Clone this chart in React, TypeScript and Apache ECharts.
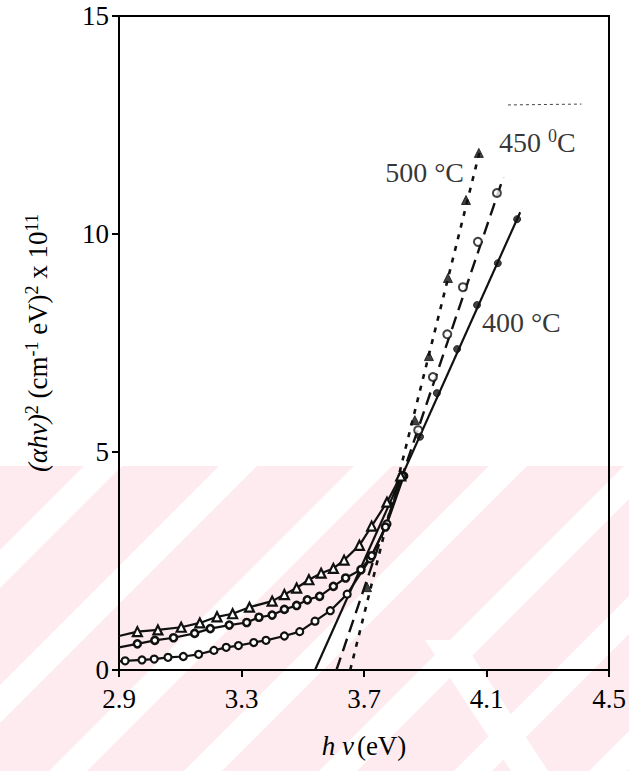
import React, { useEffect, useRef } from "react";
import * as echarts from "echarts";

const xTickValues = [2.9, 3.3, 3.7, 4.1, 4.5];
const yTickValues = [0, 5, 10, 15];

// 400 °C
const low400X = [2.9, 2.92, 2.975, 3.015, 3.06, 3.11, 3.16, 3.21, 3.25, 3.29, 3.34, 3.38, 3.44, 3.49, 3.54, 3.59, 3.645, 3.72, 3.775, 3.83];
const low400Y = [0.2, 0.21, 0.23, 0.25, 0.29, 0.31, 0.36, 0.45, 0.52, 0.56, 0.63, 0.68, 0.78, 0.88, 1.12, 1.36, 1.74, 2.55, 3.35, 4.45];
const high400X = [3.883, 3.938, 4.004, 4.069, 4.137, 4.2];
const high400Y = [5.35, 6.35, 7.36, 8.37, 9.33, 10.34];
const fit400X = [3.54, 4.21];
const fit400Y = [0, 10.5];

// 450 °C
const low450X = [2.9, 2.96, 3.017, 3.078, 3.147, 3.198, 3.26, 3.317, 3.357, 3.4, 3.44, 3.48, 3.515, 3.555, 3.6, 3.64, 3.69, 3.725, 3.77, 3.825];
const low450Y = [0.52, 0.6, 0.68, 0.74, 0.84, 0.95, 1.03, 1.09, 1.21, 1.26, 1.39, 1.48, 1.61, 1.69, 1.92, 2.11, 2.3, 2.62, 3.28, 4.45];
const high450X = [3.877, 3.925, 3.972, 4.023, 4.072, 4.134];
const high450Y = [5.5, 6.72, 7.7, 8.78, 9.82, 10.94];
const fit450X = [3.61, 4.155];
const fit450Y = [0, 11.3];

// 500 °C
const low500X = [2.9, 2.96, 3.027, 3.103, 3.164, 3.22, 3.271, 3.326, 3.4, 3.44, 3.48, 3.52, 3.56, 3.6, 3.635, 3.685, 3.725, 3.775, 3.82];
const low500Y = [0.78, 0.88, 0.92, 0.98, 1.08, 1.22, 1.29, 1.44, 1.58, 1.73, 1.88, 2.07, 2.22, 2.33, 2.52, 2.86, 3.3, 3.85, 4.45];
const high500X = [3.71, 3.866, 3.912, 3.974, 4.033, 4.075];
const high500Y = [1.9, 5.73, 7.2, 8.99, 10.78, 11.86];
const fit500X = [3.655, 4.078];
const fit500Y = [0, 11.9];

// annotations
const labelTexts = ["{n|500 °C}", "{n|450 }{s|0}{n|C}", "{n|400 °C}"];
const labelX = [3.769, 4.141, 4.085];
const labelY = [11.42, 12.09, 7.98];
const noteX = [4.17, 4.41];
const noteY = [12.96, 12.98];

const FONT = "'Liberation Serif', 'Times New Roman', serif";
const FS = 27;

const zip = (xs: number[], ys: number[]) => xs.map((x, i) => [x, ys[i]]);
const curve = (xs: number[], ys: number[]) =>
  xs.map((x, i) => (i === 0 ? { value: [x, ys[i]], symbol: "none" } : [x, ys[i]]));

function watermark() {
  const top = 466;
  const bottom = 771;
  const els: any[] = [
    { type: "rect", shape: { x: 0, y: top, width: 629, height: bottom - top }, style: { fill: "#fdebef" }, z: -10, silent: true },
  ];
  const period = 135;
  const w = 38;
  for (let c = 415; c < 1500; c += period) {
    els.push({
      type: "polygon",
      shape: {
        points: [
          [c - top, top],
          [c + w - top, top],
          [c + w - bottom, bottom],
          [c - bottom, bottom],
        ],
      },
      style: { fill: "#ffffff" },
      z: -9,
      silent: true,
    });
  }
  els.push({
    type: "polygon",
    shape: { points: [[425, 640], [462, 640], [548, 771], [511, 771]] },
    style: { fill: "#ffffff" },
    z: -9,
    silent: true,
  });
  return els;
}

export default function App() {
  const ref = useRef<HTMLDivElement>(null);
  useEffect(() => {
    document.body.style.margin = "0";
    const chart = echarts.init(ref.current!, null, { renderer: "svg" });
    const lineCol = "#111";
    const option: any = {
      animation: false,
      backgroundColor: "#ffffff",
      textStyle: { fontFamily: FONT },
      graphic: watermark(),
      grid: {
        left: 119,
        right: 20,
        top: 16,
        bottom: 101,
        show: true,
        borderColor: "#000",
        borderWidth: 2,
        backgroundColor: "transparent",
      },
      xAxis: {
        type: "value",
        min: 2.9,
        max: 4.5,
        name: "{i|h ν} {n|(eV)}",
        nameLocation: "middle",
        nameGap: 62,
        nameTextStyle: {
          rich: {
            i: { fontFamily: FONT, fontSize: FS, fontStyle: "italic", color: "#000" },
            n: { fontFamily: FONT, fontSize: FS, color: "#000" },
          },
        },
        axisLine: { show: true, onZero: false, lineStyle: { color: "#000", width: 2 } },
        axisTick: { show: true, inside: false, length: 7, lineStyle: { color: "#000", width: 2 }, customValues: xTickValues },
        axisLabel: {
          customValues: xTickValues,
          formatter: (v: number) => v.toFixed(1),
          color: "#000",
          fontFamily: FONT,
          fontSize: FS,
          margin: 15,
        },
        splitLine: { show: false },
      },
      yAxis: {
        type: "value",
        min: 0,
        max: 15,
        interval: 5,
        name: "{i|(αhν)}{s|2}{n| (cm}{s|-1}{n| eV)}{s|2}{n| x 10}{s|11}",
        nameLocation: "middle",
        nameRotate: 90,
        nameGap: 66,
        nameTextStyle: {
          rich: {
            i: { fontFamily: FONT, fontSize: FS, fontStyle: "italic", color: "#000", lineHeight: 30 },
            n: { fontFamily: FONT, fontSize: FS, color: "#000", lineHeight: 30 },
            s: { fontFamily: FONT, fontSize: 18, color: "#000", verticalAlign: "top", lineHeight: 30 },
          },
        },
        axisLine: { show: true, lineStyle: { color: "#000", width: 2 } },
        axisTick: { show: true, inside: false, length: 7, lineStyle: { color: "#000", width: 2 } },
        axisLabel: { color: "#000", fontFamily: FONT, fontSize: FS, margin: 10 },
        splitLine: { show: false },
      },
      series: [
        {
          name: "fit400",
          type: "line",
          data: zip(fit400X, fit400Y),
          symbol: "none",
          lineStyle: { color: lineCol, width: 2.2 },
          z: 3,
        },
        {
          name: "fit450",
          type: "line",
          data: zip(fit450X, fit450Y),
          symbol: "none",
          lineStyle: { color: lineCol, width: 2.4, type: [13, 7] },
          z: 3,
        },
        {
          name: "fit500",
          type: "line",
          data: zip(fit500X, fit500Y),
          symbol: "none",
          lineStyle: { color: lineCol, width: 2.6, type: [5, 7] },
          z: 3,
        },
        {
          name: "400 °C",
          type: "line",
          data: curve(low400X, low400Y),
          symbol: "circle",
          symbolSize: 7,
          lineStyle: { color: lineCol, width: 2.2 },
          itemStyle: { color: "#fff", borderColor: lineCol, borderWidth: 2.2 },
          z: 4,
        },
        {
          name: "400 °C upper",
          type: "scatter",
          data: zip(high400X, high400Y),
          symbol: "circle",
          symbolSize: 7,
          itemStyle: { color: lineCol, borderColor: lineCol, borderWidth: 1 },
          z: 5,
        },
        {
          name: "450 °C",
          type: "line",
          data: curve(low450X, low450Y),
          symbol: "circle",
          symbolSize: 7,
          lineStyle: { color: lineCol, width: 2.2 },
          itemStyle: { color: "#fff", borderColor: lineCol, borderWidth: 2.6 },
          z: 4,
        },
        {
          name: "450 °C upper",
          type: "scatter",
          data: zip(high450X, high450Y),
          symbol: "circle",
          symbolSize: 8,
          itemStyle: { color: "#fff", borderColor: lineCol, borderWidth: 2 },
          z: 5,
        },
        {
          name: "500 °C",
          type: "line",
          data: curve(low500X, low500Y),
          symbol: "triangle",
          symbolSize: 9,
          lineStyle: { color: lineCol, width: 2.2 },
          itemStyle: { color: "#fff", borderColor: lineCol, borderWidth: 2.2 },
          z: 4,
        },
        {
          name: "500 °C upper",
          type: "scatter",
          data: zip(high500X, high500Y),
          symbol: "triangle",
          symbolSize: 9,
          itemStyle: { color: lineCol, borderColor: lineCol, borderWidth: 1 },
          z: 5,
        },
        {
          name: "note",
          type: "line",
          data: zip(noteX, noteY),
          symbol: "none",
          lineStyle: { color: "#444", width: 1, type: [3, 3] },
          z: 3,
        },
        {
          name: "labels",
          type: "scatter",
          data: labelX.map((x, i) => ({ value: [x, labelY[i]], label: { formatter: labelTexts[i] } })),
          symbolSize: 0,
          label: {
            show: true,
            position: "right",
            distance: 0,
            rich: {
              n: { fontFamily: FONT, fontSize: 28, color: "#000", lineHeight: 32 },
              s: { fontFamily: FONT, fontSize: 18, color: "#000", verticalAlign: "top", lineHeight: 32 },
            },
          },
          z: 6,
        },
      ],
    };
    chart.setOption(option);
    return () => chart.dispose();
  }, []);
  return <div ref={ref} style={{ width: 629, height: 771 }} />;
}
